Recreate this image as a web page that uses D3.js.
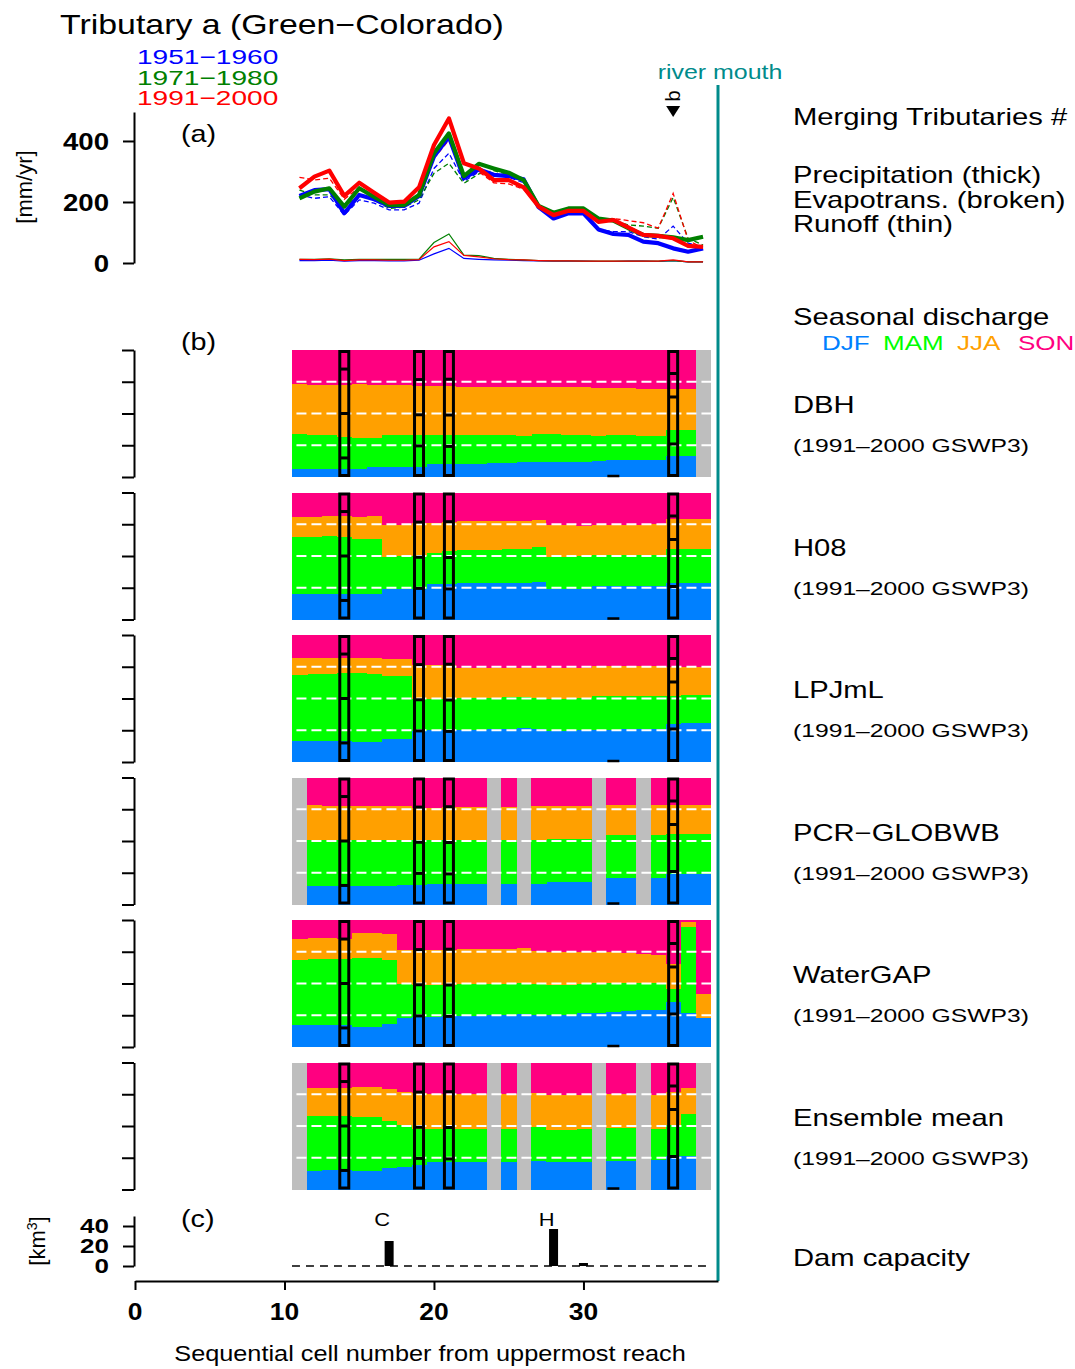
<!DOCTYPE html>
<html>
<head>
<meta charset="utf-8">
<script src="https://cdn.jsdelivr.net/npm/d3@7"></script>
<style>
  body { margin: 0; background: #fff; }
  svg text { font-family: "Liberation Sans", Arial, sans-serif; }
</style>
</head>
<body>
<div id="chart"></div>
<script>
// Cells along the river (sequential number from uppermost reach)
const cells = d3.range(11, 39);

// (a) water balance [mm/yr]
const precip1951 = [220,239,242,163,223,209,187,187,220,349,414,278,307,289,285,274,183,146,163,163,110,95,92,70,65,48,37,48];
const precip1971 = [212,234,245,185,245,217,190,190,223,360,425,285,325,310,296,272,187,165,179,179,146,139,114,92,89,84,75,86];
const precip1991 = [245,283,303,220,263,230,198,201,248,387,474,327,310,272,272,248,185,157,171,171,135,141,117,92,89,81,56,53];
const evap1951 = [223,212,217,157,207,196,174,174,196,310,360,267,299,292,281,263,179,152,165,165,110,103,103,86,78,121,65,53];
const evap1971 = [239,223,223,183,223,207,179,183,207,294,327,261,292,303,289,267,183,163,174,174,139,139,125,121,114,215,81,59];
const evap1991 = [281,272,278,209,248,217,187,187,217,343,403,283,299,263,259,242,183,163,168,168,143,146,139,132,114,228,75,48];
const runoff1951 = [8,8,9,6,8,8,7,7,9,30,48,15,12,10,9,8,7,6,6,6,5,5,6,6,5,8,4,4];
const runoff1971 = [12,12,14,10,12,12,12,12,13,67,95,26,24,15,12,10,8,7,7,6,6,6,6,6,6,8,4,4];
const runoff1991 = [12,11,13,8,10,10,9,9,11,53,70,25,20,14,11,10,8,7,7,6,6,6,6,6,6,10,4,4];

const periods = ["1951\u22121960", "1971\u22121980", "1991\u22122000"];
const periodColors = ["#0000ff", "#008000", "#ff0000"];

// (b) seasonal share of discharge [%], null = no data
const seasons = ["DJF", "MAM", "JJA", "SON"];
const seasonColors = ["#0080ff", "#00ff00", "#ffa000", "#ff0080"];
const models = ["DBH", "H08", "LPJmL", "PCR\u2212GLOBWB", "WaterGAP", "Ensemble mean"];

const dbhDJF = [6.5,6.5,6.5,6.5,6.5,8.1,8.1,8.1,8.1,10.5,10.5,10.5,10.7,11.3,11.3,11.8,12.0,12.0,12.0,12.0,12.8,13.6,13.6,13.6,13.6,16.8,16.8,null];
const dbhMAM = [27.5,26.5,26.5,25.5,24.9,22.8,24.9,24.9,24.9,22.5,22.5,22.5,22.3,21.7,21.7,20.7,21.8,21.8,21.3,21.3,19.7,19.4,19.4,18.9,18.9,20.4,20.4,null];
const dbhJJA = [39.3,39.5,40.0,41.0,41.9,41.6,39.5,39.5,39.0,39.0,38.7,37.9,37.9,37.9,37.9,38.4,37.1,37.1,37.6,37.6,37.7,37.2,37.2,36.9,36.9,32.7,32.7,null];

const h08DJF = [20.2,20.2,20.2,20.7,20.2,20.2,24.6,24.6,24.6,28.0,28.5,29.3,29.3,29.1,29.1,29.3,29.8,24.6,24.6,24.6,26.4,26.4,26.4,26.4,26.4,29.3,29.3,29.3];
const h08MAM = [45.0,45.0,45.5,44.5,43.7,43.2,24.9,25.4,25.4,24.9,25.4,25.4,25.4,25.6,26.4,26.2,27.3,24.9,24.9,25.4,24.9,24.9,24.9,24.9,24.9,26.7,26.7,26.7];
const h08JJA = [16.2,16.2,16.5,17.0,17.5,18.8,25.6,25.1,26.4,23.5,23.1,22.8,22.8,22.8,22.0,22.0,21.2,25.6,25.6,23.8,23.8,23.8,23.8,23.8,24.4,23.6,23.1,23.1];

const lpjDJF = [16.8,16.8,16.8,16.8,16.2,16.2,18.1,18.1,24.6,25.4,25.4,25.9,25.9,26.4,26.4,27.2,26.4,25.1,25.1,25.9,25.9,25.9,26.4,26.4,26.4,30.4,31.2,31.2];
const lpjMAM = [52.3,52.8,52.8,53.6,54.2,53.4,50.2,50.2,25.4,24.6,24.6,24.9,24.9,24.4,24.9,24.1,24.4,25.2,25.2,24.9,26.2,26.2,25.7,25.7,25.7,22.2,21.7,21.7];
const lpjJJA = [13.1,12.6,12.6,11.8,11.8,12.6,13.1,13.1,27.0,27.0,27.0,23.5,23.5,23.5,23.0,23.0,23.5,24.0,24.0,23.5,23.6,23.6,23.6,23.6,23.6,22.5,22.2,22.2];

const pcrDJF = [null,14.7,14.7,14.7,14.7,14.7,14.7,15.4,15.4,16.2,16.2,16.2,16.2,null,16.2,null,16.8,17.8,17.8,17.8,null,20.9,20.9,null,20.9,24.1,24.1,24.1];
const pcrMAM = [null,36.6,36.6,36.6,36.6,36.6,36.1,35.4,35.4,34.6,34.6,34.6,34.6,null,34.6,null,34.5,34.3,34.3,34.3,null,33.8,33.8,null,33.8,31.9,31.9,31.9];
const pcrJJA = [null,27.0,26.2,26.2,26.2,26.2,26.7,26.7,25.6,25.6,26.2,26.2,26.2,null,26.2,null,26.2,25.4,25.4,25.4,null,23.6,23.6,null,23.6,23.0,23.0,23.0];

const wgDJF = [17.5,17.5,17.5,17.5,16.2,16.2,18.8,22.8,24.1,24.1,24.6,24.9,24.9,25.4,25.9,26.4,25.9,25.4,25.4,27.2,27.2,28.0,28.8,29.3,29.8,35.9,26.7,22.8];
const wgMAM = [51.1,51.9,52.4,52.4,54.2,54.2,49.8,27.5,25.4,25.4,24.9,25.4,25.4,24.9,24.4,24.6,24.4,24.1,24.1,23.1,23.6,22.8,22.0,21.5,21.0,10.4,68.1,0.0];
const wgJJA = [16.5,16.7,16.2,15.7,19.7,19.7,20.7,26.1,26.9,26.9,27.5,27.4,27.4,27.4,27.4,27.3,25.4,25.6,25.6,24.8,24.3,24.3,23.8,22.5,22.2,19.7,4.2,19.6];

const ensDJF = [null,15.1,15.9,15.9,15.1,15.1,17.2,18.3,19.8,21.7,21.7,21.7,21.7,null,21.7,null,23.0,21.7,21.7,21.7,null,23.0,23.0,null,23.8,26.4,26.4,null];
const ensMAM = [null,43.1,42.3,42.3,42.3,42.3,37.1,32.9,28.2,26.3,26.3,26.3,26.3,null,26.3,null,26.9,25.6,25.6,26.3,null,25.6,25.6,null,24.2,24.8,33.4,null];
const ensJJA = [null,22.2,22.2,22.2,23.5,23.5,25.1,26.1,28.0,27.5,27.5,27.5,27.5,null,27.5,null,26.1,27.4,27.4,26.7,null,26.9,26.9,null,26.7,26.1,20.6,null];

// observed seasonal shares at gauging stations (black boxes)
const obsCells = [14, 19, 21, 36];
const obsDJF = [15.0, 24.5, 24.1, 26.0];
const obsMAM = [35.0, 24.5, 24.7, 37.0];
const obsJJA = [35.0, 27.7, 28.2, 18.5];
const gaugeMarkCells = [32];

// (c) dam capacity [km3]
const damCells = [17, 28, 30];
const damCapacity = [25, 37, 3];
const damNames = ["C", "H", ""];

// merging tributary marker
const tributaryCells = [36];
const tributaryNames = ["b"];

// ---------------------------------------------------------------
const WIDTH = 1075, HEIGHT = 1369;
const SX = 1.27; // reference text is stretched horizontally
const svg = d3.select("#chart").append("svg")
  .attr("width", WIDTH).attr("height", HEIGHT);

function label(x, y, txt, o = {}) {
  return svg.append("text")
    .attr("transform", `translate(${x},${y}) scale(${o.sx || SX},1)`)
    .attr("text-anchor", o.anchor || "start")
    .style("font-size", (o.size || 23) + "px")
    .style("font-weight", o.bold ? "bold" : "normal")
    .style("fill", o.color || "#000")
    .text(txt);
}

function styleAxis(g) {
  g.select(".domain").attr("stroke-width", 2);
  g.selectAll(".tick line").attr("stroke-width", 2);
}

const x = d3.scaleLinear().domain([0, 39]).range([135, 718]);
const TEAL = "#008b8b";

// Title and period legend
label(60, 34, "Tributary a (Green\u2212Colorado)", { size: 28, sx: 1.21 });
periods.forEach((p, i) => {
  label(137, 64 + i * 20.5, p, { size: 20.5, color: periodColors[i], sx: 1.37 });
});

// ---- (a) water balance ----
const ya = d3.scaleLinear().domain([0, 495]).range([263, 112]);
const aAxis = svg.append("g")
  .attr("transform", "translate(134,0)")
  .call(d3.axisLeft(ya).tickValues([0, 200, 400]).tickSize(11).tickSizeOuter(0).tickFormat(""));
styleAxis(aAxis);
[0, 200, 400].forEach((v) => label(109, ya(v) + 9, v, { size: 24, bold: true, anchor: "end", sx: 1.15 }));
svg.append("text")
  .attr("transform", "translate(32,187) rotate(-90)")
  .attr("text-anchor", "middle")
  .style("font-size", "22px")
  .text("[mm/yr]");
label(181, 142, "(a)", { size: 24, sx: 1.2 });

const line = d3.line().x((d) => x(d.cell)).y((d) => ya(d.v));
const toPts = (arr) => arr.map((v, i) => ({ cell: cells[i], v: v }));

[evap1951, evap1971, evap1991].forEach((s, i) => {
  svg.append("path").datum(toPts(s))
    .attr("fill", "none").attr("stroke", periodColors[i])
    .attr("stroke-width", 1.3).attr("stroke-dasharray", "5,3")
    .attr("d", line);
});
[runoff1951, runoff1971, runoff1991].forEach((s, i) => {
  svg.append("path").datum(toPts(s))
    .attr("fill", "none").attr("stroke", periodColors[i])
    .attr("stroke-width", 1.2)
    .attr("d", line);
});
[precip1951, precip1971, precip1991].forEach((s, i) => {
  svg.append("path").datum(toPts(s))
    .attr("fill", "none").attr("stroke", periodColors[i])
    .attr("stroke-width", 4.2).attr("stroke-linejoin", "round")
    .attr("d", line);
});

// merging tributary marker
tributaryCells.forEach((c, i) => {
  const cx = x(c);
  svg.append("path")
    .attr("d", `M${cx - 7},106 L${cx + 7},106 L${cx},117 Z`)
    .attr("fill", "#000");
  svg.append("text")
    .attr("transform", `translate(${cx + 7},96) rotate(-90)`)
    .attr("text-anchor", "middle")
    .style("font-size", "20px")
    .text(tributaryNames[i]);
});

// river mouth
svg.append("line")
  .attr("x1", x(39)).attr("x2", x(39)).attr("y1", 85).attr("y2", 1281)
  .attr("stroke", TEAL).attr("stroke-width", 3);
label(x(39) + 2, 79, "river mouth", { size: 19.5, color: TEAL, anchor: "middle", sx: 1.28 });

// right-hand legend texts
label(793, 125, "Merging Tributaries #");
label(793, 183, "Precipitation (thick)");
label(793, 208, "Evapotrans. (broken)");
label(793, 232, "Runoff (thin)");
label(793, 325, "Seasonal discharge");
[822, 883, 957, 1018].forEach((px, i) => {
  label(px, 350, seasons[i], { size: 20, color: seasonColors[i], sx: 1.3 });
});

// ---- (b) seasonal discharge panels ----
label(181, 350, "(b)", { size: 24, sx: 1.2 });
const modelData = [
  [dbhDJF, dbhMAM, dbhJJA],
  [h08DJF, h08MAM, h08JJA],
  [lpjDJF, lpjMAM, lpjJJA],
  [pcrDJF, pcrMAM, pcrJJA],
  [wgDJF, wgMAM, wgJJA],
  [ensDJF, ensMAM, ensJJA]
];
const panelTop0 = 350, panelStep = 142.5, panelH = 127;

const obsRows = obsCells.map((c, i) => ({
  cell: c, DJF: obsDJF[i], MAM: obsMAM[i], JJA: obsJJA[i],
  SON: 100 - obsDJF[i] - obsMAM[i] - obsJJA[i]
}));
const stack = d3.stack().keys(seasons);
const obsStack = stack(obsRows);

modelData.forEach((md, m) => {
  const top = panelTop0 + m * panelStep;
  const yb = d3.scaleLinear().domain([0, 100]).range([top + panelH, top]);

  const bAxis = svg.append("g")
    .attr("transform", "translate(134,0)")
    .call(d3.axisLeft(yb).tickValues([0, 25, 50, 75, 100]).tickSize(12).tickSizeOuter(0).tickFormat(""));
  styleAxis(bAxis);

  const rows = [];
  const missing = [];
  cells.forEach((c, i) => {
    if (md[0][i] === null) { missing.push(c); return; }
    rows.push({ cell: c, DJF: md[0][i], MAM: md[1][i], JJA: md[2][i],
      SON: 100 - md[0][i] - md[1][i] - md[2][i] });
  });

  const g = svg.append("g").attr("shape-rendering", "crispEdges");
  g.selectAll("rect.gap").data(missing).enter().append("rect")
    .attr("class", "gap")
    .attr("x", (c) => x(c - 0.5)).attr("width", (c) => x(c + 0.5) - x(c - 0.5) + 0.5)
    .attr("y", top).attr("height", panelH)
    .attr("fill", "#bebebe");

  g.selectAll("g.season").data(stack(rows)).enter().append("g")
    .attr("fill", (d, i) => seasonColors[i])
    .selectAll("rect").data((d) => d).enter().append("rect")
    .attr("x", (d) => x(d.data.cell - 0.5))
    .attr("width", (d) => x(d.data.cell + 0.5) - x(d.data.cell - 0.5) + 0.6)
    .attr("y", (d) => yb(d[1]))
    .attr("height", (d) => yb(d[0]) - yb(d[1]) + 0.4);

  // quartile guide lines
  [25, 50, 75].forEach((q) => {
    svg.append("line")
      .attr("x1", x(10.8)).attr("x2", x(38.6))
      .attr("y1", yb(q)).attr("y2", yb(q))
      .attr("stroke", "#fff").attr("stroke-width", 2)
      .attr("stroke-dasharray", "10,5");
  });

  // observed seasonal shares
  obsCells.forEach((c) => {
    svg.append("rect")
      .attr("x", x(c) - 4.5).attr("width", 9)
      .attr("y", top + 1.5).attr("height", panelH - 3)
      .attr("fill", "none").attr("stroke", "#000").attr("stroke-width", 3);
  });
  obsStack.slice(0, 3).forEach((layer) => {
    layer.forEach((d) => {
      svg.append("line")
        .attr("x1", x(d.data.cell) - 4.5).attr("x2", x(d.data.cell) + 4.5)
        .attr("y1", yb(d[1])).attr("y2", yb(d[1]))
        .attr("stroke", "#000").attr("stroke-width", 3);
    });
  });

  gaugeMarkCells.forEach((c) => {
    svg.append("line")
      .attr("x1", x(c) - 6).attr("x2", x(c) + 6)
      .attr("y1", top + panelH - 1).attr("y2", top + panelH - 1)
      .attr("stroke", "#000").attr("stroke-width", 2.5);
  });

  label(793, top + 63, models[m]);
  label(793, top + 102, "(1991\u20132000 GSWP3)", { size: 19, sx: 1.3 });
});

// ---- (c) dam capacity ----
const yd = d3.scaleLinear().domain([0, 50]).range([1266, 1216]);
const cAxis = svg.append("g")
  .attr("transform", "translate(134,0)")
  .call(d3.axisLeft(yd).tickValues([0, 20, 40]).tickSize(11).tickSizeOuter(0).tickFormat(""));
styleAxis(cAxis);
[0, 20, 40].forEach((v) => label(109, yd(v) + 7, v, { size: 20, bold: true, anchor: "end", sx: 1.3 }));
svg.append("text")
  .attr("transform", "translate(45,1241) rotate(-90)")
  .attr("text-anchor", "middle")
  .style("font-size", "22px")
  .call((t) => {
    t.append("tspan").text("[km");
    t.append("tspan").attr("dy", -8).style("font-size", "14px").text("3");
    t.append("tspan").attr("dy", 8).text("]");
  });
label(181, 1227, "(c)", { size: 24, sx: 1.2 });

svg.append("line")
  .attr("x1", x(10.5)).attr("x2", x(38.5))
  .attr("y1", yd(0)).attr("y2", yd(0))
  .attr("stroke", "#000").attr("stroke-width", 1.3)
  .attr("stroke-dasharray", "8,6");

svg.selectAll("rect.dam").data(damCells).enter().append("rect")
  .attr("class", "dam")
  .attr("x", (c) => x(c) - 4.5).attr("width", 9)
  .attr("y", (c, i) => yd(damCapacity[i]))
  .attr("height", (c, i) => yd(0) - yd(damCapacity[i]))
  .attr("fill", "#000");
damCells.forEach((c, i) => {
  if (damNames[i]) label(x(c) - 7, 1226, damNames[i], { size: 19, anchor: "middle", sx: 1.15 });
});
label(793, 1266, "Dam capacity");

// ---- x axis ----
const xAxis = svg.append("g")
  .attr("transform", "translate(0,1281)")
  .call(d3.axisBottom(x).tickValues([0, 10, 20, 30]).tickSize(9).tickSizeOuter(0).tickFormat(""));
styleAxis(xAxis);
[0, 10, 20, 30].forEach((v) => label(x(v), 1320, v, { size: 24, bold: true, anchor: "middle", sx: 1.1 }));
label(430, 1361, "Sequential cell number from uppermost reach", { size: 22, anchor: "middle", sx: 1.15 });
</script>
</body>
</html>
